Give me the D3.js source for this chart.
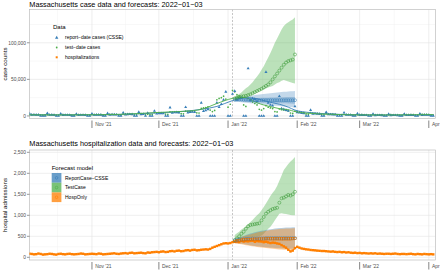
<!DOCTYPE html>
<html>
<head>
<meta charset="utf-8">
<script src="https://cdn.jsdelivr.net/npm/d3@7"></script>
<style>
  body { margin: 0; background: #fff; }
  svg { font-family: "Liberation Sans", Arial, sans-serif; }
</style>
</head>
<body>
<div id="chart"></div>
<script>
// ---- data ----
var startDate = "2021-10-04";   // first day of the daily series (Monday)
var forecastDate = "2022-01-03";
var fcStart = "2022-01-04";     // first forecast target day

var seriesNames = ["report-date cases (CSSE)", "test-date cases", "hospitalizations"];
var modelNames = ["ReportCase\u2212CSSE", "TestCase", "HospOnly"];
var colors = ["#377eb8", "#4daf4a", "#ff7f00"];

// daily reported cases in thousands, one row per week (Mon..Sun)
var reportCases = [
  3.4,1.5,1.7,1.6,1.5,0,0,
  0,3.8,1.4,1.5,1.3,0,0,
  3.0,1.2,1.4,1.3,1.2,0,0,
  2.8,1.1,1.3,1.4,1.2,0,0,
  3.1,1.3,1.5,1.6,1.5,0,0,
  3.6,1.6,1.8,1.9,1.7,0,0,
  4.4,1.9,2.3,2.4,2.2,0,0,
  5.3,2.3,2.6,0,3.9,0,0,
  6.8,3.1,3.5,3.6,3.4,0,0,
  11.5,4.2,4.8,4.9,4.6,0,0,
  12,4.5,5.3,5.6,5.2,0,0,
  18,6.5,7.5,9,0,0,0,
  18,12,16,22,33,0,0,
  30,34,22,24,25,0,0,
  65,22,24,23,20,0,0,
  0,60,18,15,14,0,0,
  27,10,9,8,7,0,0,
  13,5,4.5,4,3.6,0,0,
  8,2.8,3,2.7,2.5,0,0,
  5.2,2,2.1,1.9,1.8,0,0,
  0,4.5,1.5,1.4,1.3,0,0,
  3.2,1.2,1.2,1.1,1,0,0,
  2.7,0.9,1,1,0.9,0,0,
  2.6,0.9,1,1,0.9,0,0,
  2.8,1,1.1,1.2,1,0,0,
  3,1.2,1.3,1.4,1.3,0,0
];

// daily cases by test date, thousands
var testCases = [
  1.9,1.8,1.7,1.6,1.5,1.0,0.9,
  1.5,1.9,1.7,1.6,1.4,0.9,0.8,
  1.8,1.7,1.6,1.5,1.4,0.9,0.8,
  1.8,1.7,1.6,1.6,1.5,1.0,0.9,
  2.0,1.9,1.8,1.8,1.7,1.1,1.0,
  2.4,2.3,2.2,2.1,2.0,1.3,1.2,
  2.9,2.8,2.7,2.6,2.4,1.6,1.5,
  3.4,3.2,3.0,1.5,2.4,2.0,2.2,
  4.6,4.3,4.1,4.0,3.8,2.5,2.3,
  5.6,5.3,5.1,5.0,4.8,3.1,2.9,
  6.5,6.2,6.0,6.2,6.4,4.2,4.0,
  10.5,11,11.5,12.5,8,6,7.5,
  22,24,25,27,23,12,16,
  35,33,29,27,25,15,13,
  24,21,19,17,15,9,8,
  10,14,12,11,10,6,5.5,
  9.5,8.5,8,7.5,7,4,3.5,
  6.5,6,5.5,5,4.5,2.7,2.4,
  4.4,4,3.7,3.4,3.1,1.9,1.6,
  3.1,2.8,2.6,2.4,2.2,1.3,1.2,
  1.9,2.2,2.0,1.9,1.7,1.1,1.0,
  1.9,1.8,1.7,1.6,1.5,0.9,0.8,
  1.7,1.6,1.5,1.5,1.4,0.9,0.8,
  1.8,1.7,1.6,1.6,1.5,1.0,0.9,
  2.1,2.0,1.9,1.9,1.8,1.1,1.0,
  2.4,2.3,2.2,2.2,2.0,1.3,1.2
];

// smoothed trends, thousands
var smoothDates = ["2021-10-04","2021-10-18","2021-11-01","2021-11-15","2021-11-29","2021-12-06",
  "2021-12-13","2021-12-20","2021-12-27","2022-01-03","2022-01-07","2022-01-10","2022-01-14",
  "2022-01-17","2022-01-21","2022-01-24","2022-01-28","2022-01-31","2022-02-07","2022-02-14",
  "2022-02-21","2022-03-01","2022-03-15","2022-04-03"];
var reportSmooth = [1.6,1.5,1.6,2.2,4,5,6.5,9,13,21,24,25,23.5,21,18,16,12,8,4.5,3,2,1.5,1.2,1.4];
var testSmooth   = [1.5,1.4,1.6,2.3,4.5,5.5,6.5,9,17,24,25.5,24,18,15,12,10,8.5,6,3.5,2.5,1.8,1.4,1.3,1.8];

// daily hospital admissions, one row per week
var hospAdmits = [
  85,80,70,75,90,80,65,
  70,75,85,80,70,65,80,
  85,75,70,80,85,75,70,
  75,80,90,85,70,75,80,
  85,80,75,90,85,70,75,
  80,85,90,95,85,80,90,
  95,100,90,105,110,95,100,
  105,110,100,95,115,110,120,
  125,130,120,135,140,125,130,
  145,150,140,155,160,145,150,
  165,170,160,175,180,165,170,
  180,185,190,185,200,230,250,
  270,290,310,330,335,330,340,
  360,371,380,365,390,375,385,
  380,390,395,370,385,380,375,
  360,370,355,340,350,345,330,
  320,290,260,230,180,140,160,
  220,250,230,210,200,190,185,
  175,170,165,160,155,150,150,
  145,140,135,140,130,125,130,
  120,125,115,120,110,105,110,
  100,105,95,100,95,90,95,
  90,95,85,90,85,80,85,
  85,80,85,90,80,75,80,
  80,75,80,85,75,70,80,
  75,70,80,75,70,75,70
];

// case forecasts (thousands), Jan 4 .. Jan 31
var testFcMed = [24,25,26,26.5,27,27.5,28.5,29.5,31,32.5,34,35.5,37,39,41,43,46,50,54,58,62,66,70,73,75,76,77,84];
var testFcHi  = [26,28,30,32,35,38,40,43,46,50,54,58,63,68,74,80,86,93,100,106,112,118,123,126,128,130,132,135];
var testFcLo  = [21.5,22,23,24,25,26,27,28,29.5,31,32.5,34,35,36,37.5,39,40,41,43,45,46,48,49,48,47,46,45,44.5];
var repFcMed  = [22,22.5,22.5,22.5,22,22,22,21.5,21.5,21.5,21.5,21.5,21.5,21.5,21.5,21.5,21.5,21.5,21.5,21.5,21.5,21.5,21.5,21.5,21.5,21.5,21.5,21.5];
var repFcHi   = [24,24.5,25,25.5,26,26.5,27,27.5,28,28.5,29,29.3,29.6,30,30.3,30.6,31,31.3,31.6,32,32.3,32.6,33,33.2,33.4,33.6,33.8,34];
var repFcLo   = [19.5,19.2,18.9,18.6,18.3,18,17.7,17.4,17.1,16.8,16.5,16.2,15.9,15.6,15.3,15,14.7,14.4,14.1,13.8,13.5,13.2,13,12.8,12.5,12.2,12,11.8];
var repFcHi50 = [22.5,22.7,22.9,23.1,23.3,23.5,23.7,23.9,24.1,24.3,24.5,24.6,24.7,24.8,24.9,25,25.1,25.2,25.3,25.4,25.5,25.6,25.7,25.8,25.8,25.9,25.9,26];
var repFcLo50 = [20.5,20.3,20.1,19.9,19.7,19.5,19.3,19.1,18.9,18.7,18.5,18.4,18.3,18.2,18.1,18,17.9,17.8,17.7,17.6,17.5,17.4,17.3,17.2,17.1,17,16.8,16.6];

// hospitalization forecasts, Jan 4 .. Jan 31
var testHospMed = [412,450,500,560,610,680,740,770,780,790,800,810,880,960,1040,1085,1120,1150,1165,1180,1300,1405,1420,1450,1485,1470,1500,1560];
var testHospHi  = [530,570,610,660,700,740,790,840,890,950,1000,1050,1120,1200,1280,1370,1460,1540,1600,1700,1820,1950,2080,2150,2220,2280,2330,2390];
var testHospLo  = [370,390,410,430,450,460,470,480,485,490,495,500,520,560,620,680,730,800,880,960,1040,1050,1040,1030,1020,1010,1000,1000];
var repHospMed  = [400,410,420,425,430,435,440,440,445,445,450,450,450,450,455,455,455,455,455,455,455,455,455,455,455,455,455,455];
var repHospHi   = [430,450,470,490,510,530,550,565,580,595,610,620,630,640,650,660,668,676,684,690,696,700,704,707,709,711,713,714];
var repHospLo   = [340,335,330,325,315,305,295,285,278,270,262,255,250,245,240,235,230,226,222,218,214,211,208,206,204,202,201,200];
var hospFcMed   = [380,390,400,410,415,420,425,425,430,430,430,435,435,435,440,440,440,440,440,440,440,440,440,440,440,440,445,450];
var hospFcHi    = [420,440,460,480,500,515,530,545,560,575,590,600,610,620,630,640,648,656,663,669,674,678,682,685,687,688,689,690];
var hospFcLo    = [330,325,318,310,300,290,280,270,262,255,248,240,233,226,220,214,208,202,197,192,188,185,182,180,178,176,175,174];

var monthTicks = ["2021-11-01","2021-12-01","2022-01-01","2022-02-01","2022-03-01","2022-04-01"];
var monthLabels = ["Nov '21","Dec '21","Jan '22","Feb '22","Mar '22","Apr '22"];
var caseTicks = [0, 50, 100];
var caseTickLabels = ["0", "50,000", "100,000"];
var hospTicks = [0, 500, 1000, 1500, 2000, 2500];
var hospTickLabels = ["0", "500", "1,000", "1,500", "2,000", "2,500"];

// ---- setup ----
var parse = d3.utcParse("%Y-%m-%d");
var day0 = parse(startDate), fc0 = parse(fcStart);
function dayAt(i) { return d3.utcDay.offset(day0, i); }
function fcDay(i) { return d3.utcDay.offset(fc0, i); }

var svg = d3.select("#chart").append("svg")
    .attr("width", 440)
    .attr("height", 270);

var x = d3.scaleUtc()
  .domain([parse("2021-10-04"), parse("2022-04-04")])
  .range([29.5, 435.5]);

var topP = {y0: 9.5, y1: 118.5, id: "clipTop"},
    botP = {y0: 150, y1: 260, id: "clipBot"};

var yCase = d3.scaleLinear().domain([-3.5, 145.5]).range([topP.y1, topP.y0]);
var yHosp = d3.scaleLinear().domain([-64, 2555]).range([botP.y1, botP.y0]);

// gridline positions: majors at month starts, minors half way between
var gridMonths = ["2021-10-01"].concat(monthTicks, ["2022-05-01"]).map(parse);
var minorX = d3.pairs(gridMonths).map(function(p) { return (x(p[0]) + x(p[1])) / 2; });

function panel(p, y, ticks, tickLabels, title, ytitle) {
  var x0 = x.range()[0], x1 = x.range()[1];
  svg.append("clipPath").attr("id", p.id)
    .append("rect").attr("x", x0).attr("y", p.y0).attr("width", x1 - x0).attr("height", p.y1 - p.y0);

  var grid = svg.append("g").attr("clip-path", "url(#" + p.id + ")");
  // minor grid
  var step = ticks[1] - ticks[0];
  var minorY = ticks.map(function(t) { return t + step / 2; });
  grid.selectAll(".mx").data(minorX).enter().append("line")
    .attr("x1", function(d) { return d; }).attr("x2", function(d) { return d; })
    .attr("y1", p.y0).attr("y2", p.y1)
    .attr("stroke", "#f0f0f0").attr("stroke-width", 0.5);
  grid.selectAll(".my").data(minorY).enter().append("line")
    .attr("x1", x0).attr("x2", x1)
    .attr("y1", function(d) { return y(d); }).attr("y2", function(d) { return y(d); })
    .attr("stroke", "#f0f0f0").attr("stroke-width", 0.5);
  // major grid
  grid.selectAll(".gx").data(monthTicks).enter().append("line")
    .attr("x1", function(d) { return x(parse(d)); }).attr("x2", function(d) { return x(parse(d)); })
    .attr("y1", p.y0).attr("y2", p.y1)
    .attr("stroke", "#e3e3e3").attr("stroke-width", 0.6);
  grid.selectAll(".gy").data(ticks).enter().append("line")
    .attr("x1", x0).attr("x2", x1)
    .attr("y1", function(d) { return y(d); }).attr("y2", function(d) { return y(d); })
    .attr("stroke", "#e3e3e3").attr("stroke-width", 0.6);

  // forecast date
  grid.append("line")
    .attr("x1", x(parse(forecastDate))).attr("x2", x(parse(forecastDate)))
    .attr("y1", p.y0).attr("y2", p.y1)
    .attr("stroke", "#a0a0a0").attr("stroke-width", 0.6).attr("stroke-dasharray", "2,1.5");

  // panel border
  svg.append("rect").attr("x", x0).attr("y", p.y0).attr("width", x1 - x0).attr("height", p.y1 - p.y0)
    .attr("fill", "none").attr("stroke", "#b3b3b3").attr("stroke-width", 0.6);

  // y axis
  var ya = svg.append("g");
  ticks.forEach(function(t, i) {
    ya.append("line").attr("x1", x0 - 2.5).attr("x2", x0).attr("y1", y(t)).attr("y2", y(t))
      .attr("stroke", "#333").attr("stroke-width", 0.5);
    ya.append("text").attr("x", x0 - 3.5).attr("y", y(t)).attr("dy", "0.35em")
      .attr("text-anchor", "end").style("font-size", "4.9px").attr("fill", "#4d4d4d")
      .text(tickLabels[i]);
  });

  // x axis: long ticks with labels to their right
  var xa = svg.append("g");
  monthTicks.forEach(function(t, i) {
    var px = x(parse(t));
    xa.append("line").attr("x1", px).attr("x2", px).attr("y1", p.y1 + 2).attr("y2", p.y1 + 9.5)
      .attr("stroke", "#333").attr("stroke-width", 0.6);
    xa.append("text").attr("x", px + 3.2).attr("y", p.y1 + 7.8)
      .style("font-size", "4.9px").attr("fill", "#4d4d4d").text(monthLabels[i]);
  });

  svg.append("text").attr("x", 29.3).attr("y", p.y0 - (p === topP ? 2.6 : 4.3))
    .style("font-size", "7.3px").attr("fill", "#000").text(title);
  svg.append("text")
    .attr("transform", "translate(6.7," + ((p.y0 + p.y1) / 2) + ")rotate(-90)")
    .attr("text-anchor", "middle").style("font-size", "6.2px").attr("fill", "#000")
    .text(ytitle);

  return svg.append("g").attr("clip-path", "url(#" + p.id + ")");
}

function band(g, y, hi, lo, color, opacity) {
  g.append("path")
    .datum(d3.range(hi.length))
    .attr("fill", color).attr("fill-opacity", opacity)
    .attr("d", d3.area()
      .x(function(i) { return x(fcDay(i)); })
      .y0(function(i) { return y(lo[i]); })
      .y1(function(i) { return y(hi[i]); }));
}

function circles(g, y, vals, color) {
  g.selectAll(null).data(vals).enter().append("circle")
    .attr("cx", function(d, i) { return x(fcDay(i)); })
    .attr("cy", function(d) { return y(d); })
    .attr("r", 1.5)
    .attr("fill", "none").attr("stroke", color).attr("stroke-width", 0.55);
}

// ---- top panel: cases ----
var gTop = panel(topP, yCase, caseTicks, caseTickLabels,
  "Massachusetts case data and forecasts: 2022\u221201\u221203", "case counts");

band(gTop, yCase, testFcHi, testFcLo, colors[1], 0.38);
band(gTop, yCase, repFcHi, repFcLo, colors[0], 0.3);
band(gTop, yCase, repFcHi50, repFcLo50, colors[0], 0.3);

gTop.selectAll(".tc").data(testCases).enter().append("circle")
  .attr("cx", function(d, i) { return x(dayAt(i)); })
  .attr("cy", function(d) { return yCase(d); })
  .attr("r", 0.85).attr("fill", colors[1]);

gTop.selectAll(".rc").data(reportCases).enter().append("path")
  .attr("transform", function(d, i) { return "translate(" + x(dayAt(i)) + "," + yCase(d) + ")"; })
  .attr("d", d3.symbol(d3.symbolTriangle).size(4))
  .attr("fill", colors[0]);

var smoothLine = function(vals) {
  return d3.line()
    .x(function(d, i) { return x(parse(smoothDates[i])); })
    .y(function(d) { return yCase(d); })
    .curve(d3.curveMonotoneX)(vals);
};
gTop.append("path").attr("d", smoothLine(reportSmooth))
  .attr("fill", "none").attr("stroke", colors[0]).attr("stroke-width", 0.9);
gTop.append("path").attr("d", smoothLine(testSmooth))
  .attr("fill", "none").attr("stroke", colors[1]).attr("stroke-width", 0.9);

circles(gTop, yCase, repFcMed, colors[0]);
circles(gTop, yCase, testFcMed, "#3a9a37");

// top legend
var lg = svg.append("g");
lg.append("text").attr("x", 53).attr("y", 29.2).style("font-size", "6px").text("Data");
var legY = [37.7, 47.5, 57.3];
lg.append("path").attr("transform", "translate(56.7," + legY[0] + ")")
  .attr("d", d3.symbol(d3.symbolTriangle).size(5)).attr("fill", colors[0]);
lg.append("circle").attr("cx", 56.7).attr("cy", legY[1]).attr("r", 0.9).attr("fill", colors[1]);
lg.append("rect").attr("x", 55.7).attr("y", legY[2] - 1).attr("width", 2).attr("height", 2).attr("fill", colors[2]);
seriesNames.forEach(function(s, i) {
  lg.append("text").attr("x", 65).attr("y", legY[i]).attr("dy", "0.35em")
    .style("font-size", "5px").text(s.replace("-", "\u2212"));
});

// ---- bottom panel: hospitalizations ----
var gBot = panel(botP, yHosp, hospTicks, hospTickLabels,
  "Massachusetts hospitalization data and forecasts: 2022\u221201\u221203", "hospital admissions");

band(gBot, yHosp, testHospHi, testHospLo, colors[1], 0.38);
band(gBot, yHosp, repHospHi, repHospLo, colors[0], 0.35);
band(gBot, yHosp, hospFcHi, hospFcLo, colors[2], 0.38);

gBot.append("path").datum(hospAdmits)
  .attr("fill", "none").attr("stroke", colors[2]).attr("stroke-width", 1.1)
  .attr("d", d3.line().x(function(d, i) { return x(dayAt(i)); }).y(function(d) { return yHosp(d); }));
gBot.selectAll(".ha").data(hospAdmits).enter().append("rect")
  .attr("x", function(d, i) { return x(dayAt(i)) - 1.2; })
  .attr("y", function(d) { return yHosp(d) - 1.2; })
  .attr("width", 2.4).attr("height", 2.4).attr("fill", colors[2]);

circles(gBot, yHosp, testHospMed, "#3a9a37");
circles(gBot, yHosp, repHospMed, colors[0]);
gBot.selectAll(".hf").data(hospFcMed).enter().append("rect")
  .attr("x", function(d, i) { return x(fcDay(i)) - 1.2; })
  .attr("y", function(d) { return yHosp(d) - 1.2; })
  .attr("width", 2.4).attr("height", 2.4)
  .attr("fill", "none").attr("stroke", "#e07000").attr("stroke-width", 0.55);

// bottom legend
var lb = svg.append("g");
lb.append("text").attr("x", 51.7).attr("y", 170).style("font-size", "6px").text("Forecast model");
var keyY = [173, 182.7, 192.4];
modelNames.forEach(function(m, i) {
  lb.append("rect").attr("x", 51.7).attr("y", keyY[i]).attr("width", 9.7).attr("height", 9.7)
    .attr("fill", colors[i]).attr("fill-opacity", 0.75);
  lb.append("circle").attr("cx", 56.55).attr("cy", keyY[i] + 4.85).attr("r", 1.3)
    .attr("fill", "none").attr("stroke", colors[i]).attr("stroke-width", 0.6);
  lb.append("text").attr("x", 65).attr("y", keyY[i] + 4.85).attr("dy", "0.35em")
    .style("font-size", "5px").text(m);
});
</script>
</body>
</html>
